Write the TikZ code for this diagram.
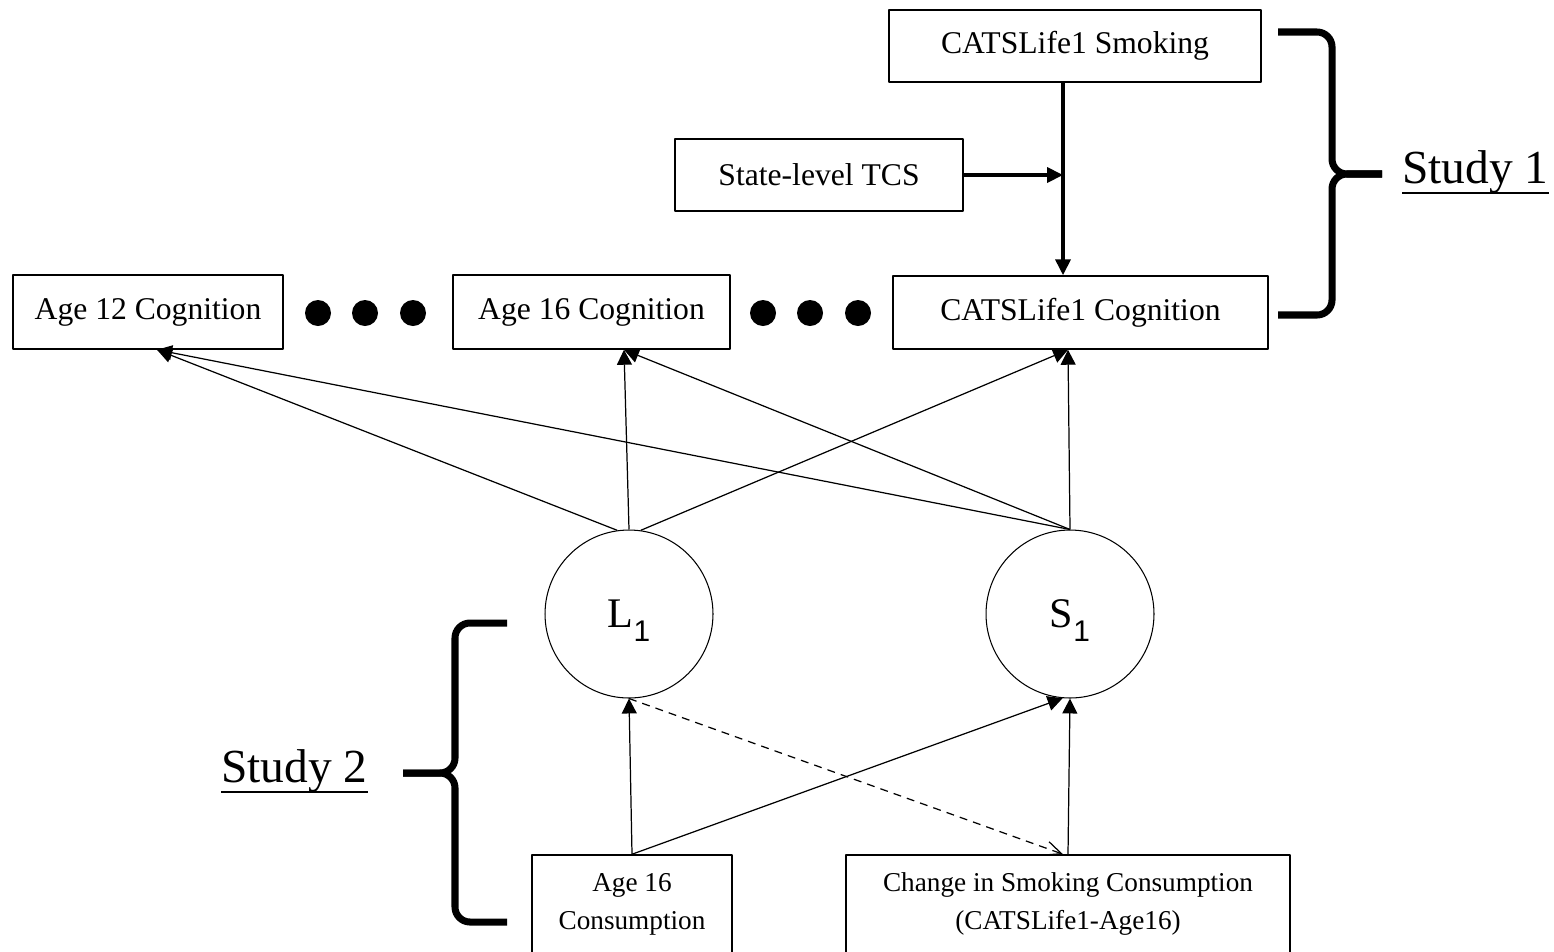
\documentclass[tikz,border=0pt]{standalone}
\usepackage{fontspec}
\setmainfont{Liberation Serif}
\newfontfamily\pediceft{Liberation Sans}
\usetikzlibrary{arrows.meta}

\newcommand{\pedix}[1]{\smash{\raisebox{-0.33em}{\pediceft\fontsize{17}{17}\selectfont #1}}}

\begin{document}
\begin{tikzpicture}[x=0.02cm,y=-0.02cm,line join=round,
    scatola/.style={draw,line width=0.9pt,inner sep=0pt,align=center,
      font=\fontsize{18}{21.5}\selectfont},
    piccola/.style={scatola,font=\fontsize{15.5}{21.5}\selectfont},
    latente/.style={draw,circle,line width=0.6pt,inner sep=0pt,minimum size=3.36cm,
      font=\fontsize{24}{24}\selectfont},
    punto/.style={circle,fill,inner sep=0pt,minimum size=0.52cm},
    freccia/.style={line width=0.7pt,-{Triangle[length=8.5pt,width=8.5pt]}},
    grossa/.style={line width=2pt,-{Triangle[length=9pt,width=8.5pt]}},
    tratteggio/.style={line width=0.7pt,dash pattern=on 4.5pt off 3.5pt,
      -{Straight Barb[length=9pt,width=8pt]}},
    graffa/.style={line width=4pt,line cap=butt,rounded corners=0.3cm},
    studio/.style={inner sep=0pt,font=\fontsize{27}{27}\selectfont}]

  \useasboundingbox (0,0) rectangle (1554,951);

  % ---- studio 1: fumo, politiche e cognizione ------------------------------
  \node[scatola,minimum width=7.44cm,minimum height=1.44cm] (smoke) at (1075,46) {CATSLife1 Smoking};
  \node[scatola,minimum width=5.76cm,minimum height=1.44cm] (tcs) at (819,175) {State-level TCS};

  \node[scatola,minimum width=5.4cm,minimum height=1.48cm] (age12) at (148,312) {Age 12 Cognition};
  \node[scatola,minimum width=5.54cm,minimum height=1.48cm] (age16) at (591.5,312) {Age 16 Cognition};
  \node[scatola,minimum width=7.5cm,minimum height=1.46cm] (cogn) at (1080.5,312.5) {CATSLife1 Cognition};

  \node[punto] (p1) at (318,313) {};
  \node[punto] (p2) at (365,313) {};
  \node[punto] (p3) at (413,313) {};
  \node[punto] (p4) at (763,313) {};
  \node[punto] (p5) at (810,313) {};
  \node[punto] (p6) at (858,313) {};

  \coordinate (mod) at (1063,175);
  \draw[grossa] (smoke.south -| mod) -- (cogn.north -| mod);
  \draw[grossa] (tcs.east) -- (mod);

  % ---- fattori latenti --------------------------------------------------------
  \node[latente] (L1) at (629,614) {L\pedix{1}};
  \node[latente] (S1) at (1070,614) {S\pedix{1}};

  \draw[freccia] (L1.98) -- ([xshift=0.18cm]age12.south);
  \draw[freccia] (L1.north) -- ([xshift=0.65cm]age16.south);
  \draw[freccia] (L1.82) -- ([xshift=-0.25cm]cogn.south);
  \draw[freccia] (S1.north) -- ([xshift=0.18cm]age12.south);
  \draw[freccia] (S1.north) -- ([xshift=0.65cm]age16.south);
  \draw[freccia] (S1.north) -- ([xshift=-0.25cm]cogn.south);

  % ---- studio 2: consumo -----------------------------------------------------
  \node[piccola,minimum width=4cm,minimum height=1.96cm] (cons) at (632,904) {Age 16\\Consumption};
  \node[piccola,minimum width=8.88cm,minimum height=1.96cm] (change) at (1068,904) {Change in Smoking Consumption\\(CATSLife1-Age16)};

  \draw[freccia] (cons.north) -- (L1.south);
  \draw[freccia] (cons.north) -- (S1.265);
  \draw[freccia] (change.north) -- (S1.south);
  \draw[tratteggio] (L1.south) -- ([xshift=-0.1cm]change.north);

  % ---- graffe ----------------------------------------------------------------
  \draw[graffa] (1278,32) -- (1332,32) -- (1332,174) -- (1382,174);
  \draw[graffa] (1382,174) -- (1332,174) -- (1332,315) -- (1278,315);
  \node[studio,anchor=base west] (lab1) at (1402,183) {Study 1};
  \draw[line width=1.2pt] ([yshift=-5.6pt]lab1.base west) -- ([yshift=-5.6pt]lab1.base east);

  \draw[graffa] (507,623) -- (455,623) -- (455,773) -- (403,773);
  \draw[graffa] (403,773) -- (455,773) -- (455,922) -- (507,922);
  \node[studio,anchor=base east] (lab2) at (368,782) {Study 2};
  \draw[line width=1.2pt] ([yshift=-5.6pt]lab2.base west) -- ([yshift=-5.6pt]lab2.base east);

\end{tikzpicture}
\end{document}
